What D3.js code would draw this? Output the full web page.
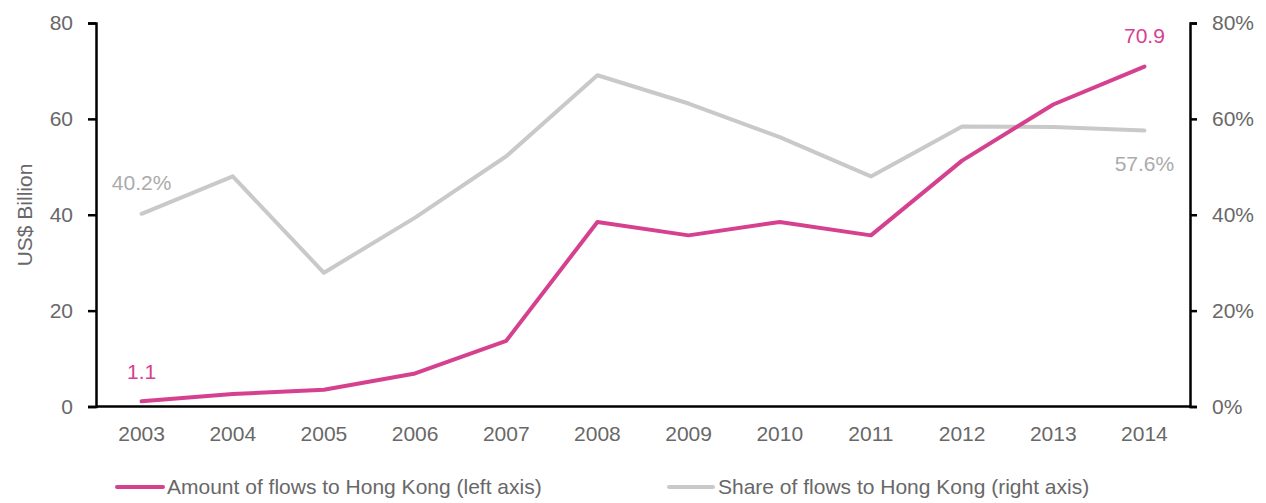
<!DOCTYPE html>
<html><head><meta charset="utf-8">
<script src="https://cdn.jsdelivr.net/npm/d3@7"></script>
<style>body{margin:0;background:#fff;} svg{display:block;font-family:"Liberation Sans",Arial,sans-serif;}</style>
</head><body>
<svg id="chart" width="1266" height="503"></svg>
<script>
const years = ["2003","2004","2005","2006","2007","2008","2009","2010","2011","2012","2013","2014"];
const amount = [1.1,2.6,3.5,6.9,13.7,38.5,35.7,38.5,35.7,51.3,63.0,70.9];
const share = [40.2,48.0,27.9,39.4,52.2,69.1,63.2,56.2,48.0,58.4,58.3,57.6];
const leftTicks = [0,20,40,60,80];
const rightTicks = [0,20,40,60,80];
const seriesNames = ["Amount of flows to Hong Kong (left axis)","Share of flows to Hong Kong (right axis)"];

const svg = d3.select("#chart");
const m = {l:96,r:1190,t:23,b:406.5};
const magenta = "#D6418F", grey = "#C9C9C9", tickCol = "#686868", lblGrey = "#ABABAB";
const FS = "21px";

const x = d3.scaleBand().domain(years).range([m.l,m.r]);
const yL = d3.scaleLinear().domain([0,80]).range([m.b,m.t]);
const yR = d3.scaleLinear().domain([0,80]).range([m.b,m.t]);
const cx = d => x(d)+x.bandwidth()/2;

const gl = svg.append("g").attr("transform",`translate(${m.l},0)`)
  .call(d3.axisLeft(yL).tickValues(leftTicks).tickSize(8).tickPadding(15));
const gr = svg.append("g").attr("transform",`translate(${m.r},0)`)
  .call(d3.axisRight(yR).tickValues(rightTicks).tickSize(7).tickPadding(15).tickFormat(d=>d+"%"));
const gb = svg.append("g").attr("transform",`translate(0,${m.b})`)
  .call(d3.axisBottom(x).tickSize(0).tickPadding(20));
[gl,gr,gb].forEach(g=>{
  g.selectAll(".domain").attr("stroke","#000").attr("stroke-width",2.5);
  g.selectAll(".tick line").attr("stroke","#000").attr("stroke-width",2.5);
  g.selectAll("text").attr("fill",tickCol).attr("font-size",FS).attr("font-family","Liberation Sans, Arial, sans-serif");
});
gb.select(".domain").attr("d",`M${m.l},0H${m.r}`);

svg.append("text").attr("transform","translate(32,215) rotate(-90)")
  .attr("text-anchor","middle").attr("fill",tickCol).attr("font-size",FS).text("US$ Billion");

const lineL = d3.line().x((d,i)=>cx(years[i])).y(d=>yL(d));
const lineR = d3.line().x((d,i)=>cx(years[i])).y(d=>yR(d));
svg.append("path").datum(share).attr("d",lineR).attr("fill","none").attr("stroke",grey).attr("stroke-width",4).attr("stroke-linejoin","round").attr("stroke-linecap","round");
svg.append("path").datum(amount).attr("d",lineL).attr("fill","none").attr("stroke",magenta).attr("stroke-width",4).attr("stroke-linejoin","round").attr("stroke-linecap","round");

const n = years.length-1;
svg.append("text").attr("x",cx(years[0])).attr("y",yR(share[0])-24).attr("text-anchor","middle").attr("fill",lblGrey).attr("font-size",FS).text(share[0].toFixed(1)+"%");
svg.append("text").attr("x",cx(years[0])).attr("y",yL(amount[0])-22).attr("text-anchor","middle").attr("fill",magenta).attr("font-size",FS).text(amount[0].toFixed(1));
svg.append("text").attr("x",cx(years[n])).attr("y",yL(amount[n])-24).attr("text-anchor","middle").attr("fill",magenta).attr("font-size",FS).text(amount[n].toFixed(1));
svg.append("text").attr("x",cx(years[n])).attr("y",yR(share[n])+41).attr("text-anchor","middle").attr("fill",lblGrey).attr("font-size",FS).text(share[n].toFixed(1)+"%");

const leg = [{x1:117,x2:163,tx:167,c:magenta,t:seriesNames[0]},{x1:669,x2:713,tx:718,c:grey,t:seriesNames[1]}];
leg.forEach(l=>{
  svg.append("line").attr("x1",l.x1).attr("x2",l.x2).attr("y1",487).attr("y2",487).attr("stroke",l.c).attr("stroke-width",4).attr("stroke-linecap","round");
  svg.append("text").attr("x",l.tx).attr("y",494).attr("fill",tickCol).attr("font-size",FS).text(l.t);
});
</script>
</body></html>
